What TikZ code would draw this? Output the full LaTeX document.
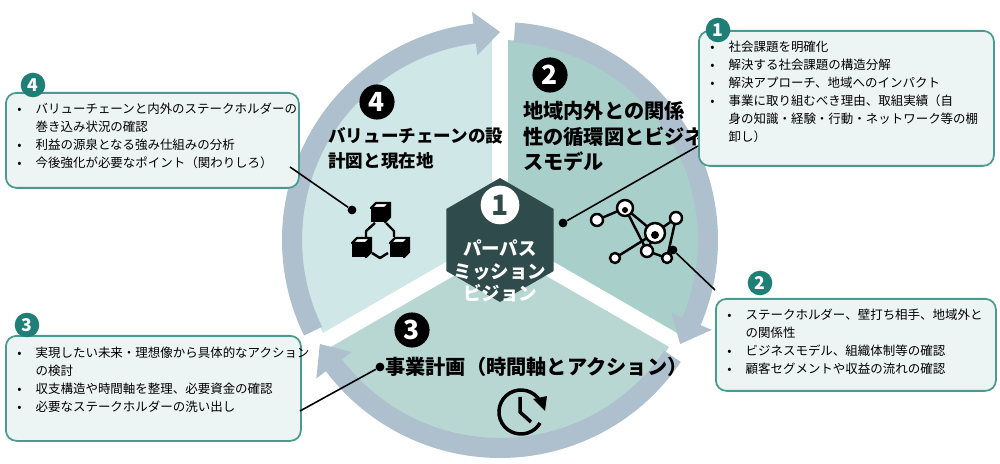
\documentclass[tikz,border=0pt]{standalone}
\usepackage{fontspec}
\setmainfont{Noto Sans CJK JP}
\usetikzlibrary{shapes.geometric,positioning}
\definecolor{ringc}{HTML}{AEBFCD}
\definecolor{secA}{HTML}{CFE7E6}
\definecolor{secB}{HTML}{A9CFCB}
\definecolor{secC}{HTML}{B8D7D3}
\definecolor{hexc}{HTML}{2F4B4B}
\definecolor{boxline}{HTML}{4A9A90}
\definecolor{boxfill}{HTML}{EDF5F4}
\definecolor{badge}{HTML}{1F7F77}
\tikzset{
  num/.style={circle,fill=black,text=white,inner sep=0pt,minimum size=20pt,font=\fontsize{15}{15}\selectfont\bfseries},
  tnum/.style={circle,fill=badge,text=white,inner sep=0pt,minimum size=14pt,font=\fontsize{10}{10}\selectfont\bfseries},
  seclabel/.style={align=left,inner sep=0pt,font=\fontsize{11.5}{14.5}\selectfont\bfseries},
  callout/.style={draw=boxline,fill=boxfill,line width=1pt,rounded corners=6pt},
  items/.style={anchor=north west,inner sep=0pt,align=left,font=\fontsize{7.1}{10.3}\selectfont},
  leader/.style={line width=0.9pt},
  dot/.style={circle,fill=black,inner sep=0pt,minimum size=5pt},
  icon/.style={line width=1.4pt,line join=round}
}
\newcommand\ringarrow[3]{% start, head base, tip
  \fill[ringc] (#1:218) arc (#1:#2:218) -- (#2:230) -- (#3:208) -- (#2:186)
    -- (#2:198) arc (#2:#1:198) -- cycle;}
\newcommand\blk[2]{% small cube
  \fill[black] (#1-9,#2-9) rectangle (#1+5,#2+5);
  \draw[icon,fill=white] (#1-9,#2+5) -- (#1-4,#2+10) -- (#1+10,#2+10) -- (#1+5,#2+5) -- cycle;
  \draw[icon,fill=black] (#1+5,#2+5) -- (#1+10,#2+10) -- (#1+10,#2-4) -- (#1+5,#2-9) -- cycle;}
\begin{document}
\begin{tikzpicture}[x=0.02cm,y=0.02cm]
\useasboundingbox (0,0) rectangle (1000,463);
% wheel
\begin{scope}[shift={(500,223)}]
  \fill[secA] (0,0) -- (90:200) arc (90:210:200) -- cycle;
  \fill[secB] (0,0) -- (-30:200) arc (-30:90:200) -- cycle;
  \fill[secC] (0,0) -- (210:200) arc (210:330:200) -- cycle;
  \foreach \a in {90,210,330} \draw[white,line width=9pt] (0,0) -- (\a:205);
  \ringarrow{206}{97}{90}
  \ringarrow{86}{-23}{-30}
  \ringarrow{-34}{-143}{-150}
  \node[regular polygon,regular polygon sides=6,shape border rotate=30,
        fill=hexc,minimum size=124*0.02cm,inner sep=0pt] (hex) at (0,0) {};
\end{scope}
\node[circle,fill=white,text=hexc,inner sep=0pt,minimum size=22pt,
      font=\fontsize{16}{16}\selectfont\bfseries] (n1) at (500,258) {1};
\node[text=white,align=center,font=\fontsize{10.5}{13}\selectfont\bfseries] (purpose) at (500,192) {パーパス\\ミッション\\ビジョン};
% sector labels
\node[num] (n2) at (550,388) {2};
\node[seclabel,anchor=north west] (lab2) at (523,362) {地域内外との関係\\性の循環図とビジネ\\スモデル};
\node[num] (n4) at (377,361) {4};
\node[seclabel,font=\fontsize{10}{14.5}\selectfont\bfseries,anchor=north west] (lab4) at (328,336) {バリューチェーンの設\\計図と現在地};
\node[num] (n3) at (412,133) {3};
\node[seclabel,anchor=west] (lab3) at (385,96) {事業計画（時間軸とアクション）};
% icons
\blk{380}{250}\blk{361}{215}\blk{399}{215}
\draw[icon] (375,240) -- (366,232) -- (366,226);
\draw[icon] (386,240) -- (394,232) -- (394,226);
\draw[icon] (372,210) -- (380,205) -- (388,210);
\begin{scope}[icon]
  \draw (597,243) -- (625,255) -- (655,230) -- (676,245) -- (667,205) -- (647,212) -- (625,255);
  \draw (647,212) -- (655,230) -- (615,205);
  \foreach \x/\y/\r in {597/243/6,625/255/8,655/230/10,676/245/6,667/205/5,647/212/6,615/205/5}
    \draw[fill=white] (\x,\y) circle (\r);
  \fill (655,228) circle (4);
  \fill (625,253) circle (3);
\end{scope}
\draw[line width=2pt] (540,62) arc (30:330:22);
\fill (547,67) -- (533,64) -- (545,52) -- cycle;
\draw[line width=2pt] (520,66) -- (520,51) -- (531,41);
% callouts
\node[callout,minimum width=295*0.02cm,minimum height=135*0.02cm,anchor=north west] (box1) at (698,433) {};
\node[items] (txt1) at (710,425) {\begin{tabular}{@{}l@{\hspace{8pt}}l@{}}
•&社会課題を明確化\\ •&解決する社会課題の構造分解\\ •&解決アプローチ、地域へのインパクト\\
•&事業に取り組むべき理由、取組実績（自\\ &身の知識・経験・行動・ネットワーク等の棚\\ &卸し）\end{tabular}};
\node[tnum] (c1) at (718,433) {1};
\node[callout,minimum width=280*0.02cm,minimum height=92*0.02cm,anchor=north west] (box2) at (715,165) {};
\node[items] (txt2) at (727,157) {\begin{tabular}{@{}l@{\hspace{8pt}}l@{}}
•&ステークホルダー、壁打ち相手、地域外と\\ &の関係性\\ •&ビジネスモデル、組織体制等の確認\\ •&顧客セグメントや収益の流れの確認\end{tabular}};
\node[tnum] (c2) at (760,180) {2};
\node[callout,minimum width=293*0.02cm,minimum height=95*0.02cm,anchor=north west] (box4) at (5,371) {};
\node[items] (txt4) at (17,363) {\begin{tabular}{@{}l@{\hspace{8pt}}l@{}}
•&バリューチェーンと内外のステークホルダーの\\ &巻き込み状況の確認\\ •&利益の源泉となる強み仕組みの分析\\ •&今後強化が必要なポイント（関わりしろ）\end{tabular}};
\node[tnum] (c4) at (33,378) {4};
\node[callout,minimum width=295*0.02cm,minimum height=105*0.02cm,anchor=north west] (box3) at (5,128) {};
\node[items] (txt3) at (17,119) {\begin{tabular}{@{}l@{\hspace{8pt}}l@{}}
•&実現したい未来・理想像から具体的なアクション\\ &の検討\\ •&収支構造や時間軸を整理、必要資金の確認\\ •&必要なステークホルダーの洗い出し\end{tabular}};
\node[tnum] (c3) at (27,138) {3};
% leaders
\node[dot] (d1) at (563,240) {};
\node[dot] (d2) at (673,213) {};
\node[dot] (d4) at (352,253) {};
\node[dot] (d3) at (380,96) {};
\coordinate (e1) at (698,317);
\coordinate (e2) at (715,173);
\coordinate (e4) at (290,296);
\coordinate (e3) at (300,52);
\draw[leader] (d1) -- (e1);
\draw[leader] (d2) -- (e2);
\draw[leader] (d4) -- (e4);
\draw[leader] (d3) -- (e3);
\end{tikzpicture}
\end{document}
